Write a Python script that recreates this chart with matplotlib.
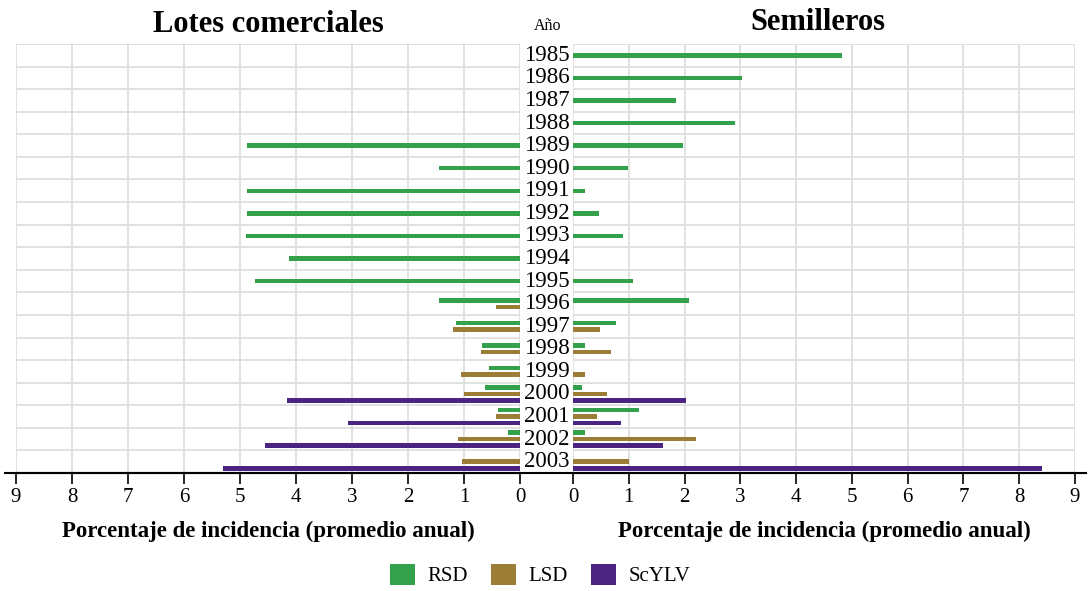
import matplotlib.pyplot as plt
import numpy as np
from matplotlib.lines import Line2D
from matplotlib.patches import Patch

plt.rcParams["font.family"] = ["Liberation Serif", "DejaVu Serif"]

years = list(range(1985, 2004))
series = ["RSD", "LSD", "ScYLV"]
colors = {"RSD": "#33a04b", "LSD": "#9b7d35", "ScYLV": "#4a2480"}
nan = np.nan

# Lotes comerciales (left panel)
left_rsd = [nan, nan, nan, nan, 4.87, 1.44, 4.87, 4.87, 4.9, 4.13, 4.73,
            1.44, 1.15, 0.68, 0.55, 0.62, 0.40, 0.21, 0.0]
left_lsd = [nan] * 11 + [0.43, 1.2, 0.7, 1.06, 1.0, 0.43, 1.11, 1.04]
left_scylv = [nan] * 15 + [4.16, 3.07, 4.55, 5.3]

# Semilleros (right panel)
right_rsd = [4.83, 3.03, 1.84, 2.9, 1.98, 0.98, 0.22, 0.46, 0.9, 0.0, 1.07,
             2.08, 0.77, 0.21, 0.0, 0.17, 1.18, 0.21, 0.0]
right_lsd = [nan] * 11 + [0.0, 0.48, 0.68, 0.22, 0.61, 0.43, 2.2, 1.0]
right_scylv = [nan] * 15 + [2.02, 0.86, 1.62, 8.4]

left = {"RSD": left_rsd, "LSD": left_lsd, "ScYLV": left_scylv}
right = {"RSD": right_rsd, "LSD": right_lsd, "ScYLV": right_scylv}

W, H = 1091, 591
fig = plt.figure(figsize=(W / 100, H / 100), dpi=100)


def fx(px):
    return px / W


def fy(py):
    return 1 - py / H


top, bottom = 44, 473
ax_l = fig.add_axes([fx(16), fy(bottom), fx(520 - 16), fy(top) - fy(bottom)])
ax_r = fig.add_axes([fx(573), fy(bottom), fx(1075 - 573), fy(top) - fy(bottom)])

slot = 0.29
bar_h = 0.2


def draw(ax, data):
    for i, yr in enumerate(years):
        present = [s for s in series
                   if not (np.isnan(left[s][i]) and np.isnan(right[s][i]))]
        n = len(present)
        for k, s in enumerate(present):
            v = data[s][i]
            if np.isnan(v) or v == 0:
                continue
            off = (k - (n - 1) / 2) * slot
            ax.barh(i + off, v, height=bar_h, color=colors[s], zorder=3)
    ax.set_ylim(len(years) - 0.5, -0.5)
    ax.set_xlim(0, 9)
    ax.set_yticks([])
    ax.set_xticks(range(10))
    for i in range(len(years)):
        ax.axhline(i - 0.5, color="#dcdcdc", lw=1.2, zorder=1)
    for t in range(10):
        ax.axvline(t, color="#dcdcdc", lw=1.2, zorder=1)
    for side in ["top", "left", "right"]:
        ax.spines[side].set_visible(False)
    ax.spines["bottom"].set_color("black")
    ax.spines["bottom"].set_linewidth(1.5)
    ax.tick_params(axis="x", direction="out", length=8, width=1.2,
                   labelsize=15, pad=3)
    ax.set_xlabel("Porcentaje de incidencia (promedio anual)",
                  fontsize=16.5, fontweight="bold", labelpad=10)


draw(ax_l, left)
draw(ax_r, right)
ax_l.invert_xaxis()

# full-width baseline
fig.add_artist(Line2D([fx(5), fx(1086)], [fy(bottom), fy(bottom)],
                      color="black", lw=1.5))

# year labels between the panels
for i, yr in enumerate(years):
    y = top + (i + 0.5) * (bottom - top) / len(years)
    fig.text(fx(547), fy(y), str(yr), ha="center", va="center", fontsize=16.5)

fig.text(fx(548), fy(26), "Año", ha="center", va="center", fontsize=11.5)
fig.text(fx(268), fy(24), "Lotes comerciales", ha="center", va="center",
         fontsize=22, fontweight="bold")
fig.text(fx(818), fy(22), "Semilleros", ha="center", va="center",
         fontsize=22, fontweight="bold")

handles = [Patch(facecolor=colors[s], label=s) for s in series]
fig.legend(handles=handles, loc="center", bbox_to_anchor=(fx(540), fy(575)),
           ncol=3, frameon=False, fontsize=15, handlelength=1.2,
           handleheight=1.2, columnspacing=1.1, handletextpad=0.6)

fig.savefig("out.png", dpi=100)
